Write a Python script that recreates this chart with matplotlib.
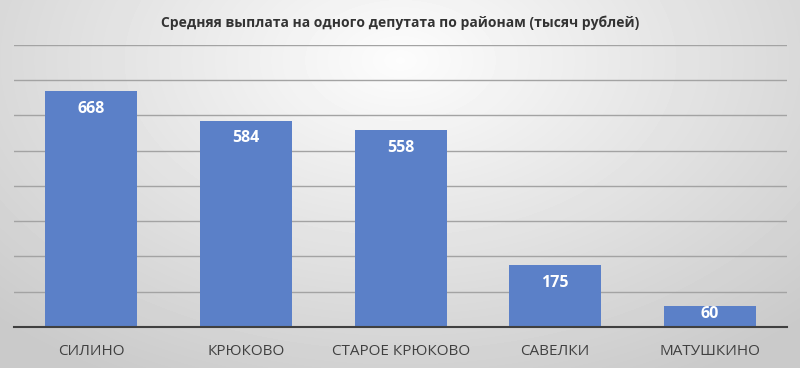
import matplotlib
matplotlib.use("Agg")
import matplotlib.pyplot as plt
import numpy as np

districts = ["СИЛИНО", "КРЮКОВО", "СТАРОЕ КРЮКОВО", "САВЕЛКИ", "МАТУШКИНО"]
payouts = [668, 584, 558, 175, 60]
title = "Средняя выплата на одного депутата по районам (тысяч рублей)"

plt.rcParams["font.family"] = ["Open Sans", "DejaVu Sans"]

fig = plt.figure(figsize=(8, 3.68), dpi=100)

# radial grey background
bg = fig.add_axes([0, 0, 1, 1], zorder=-10)
yy, xx = np.mgrid[0:368, 0:800]
r = np.sqrt(((xx - 400) / 520.0) ** 2 + ((yy - 60) / 330.0) ** 2)
shade = np.clip(0.99 - 0.18 * r, 0.79, 0.99)
bg.imshow(shade, cmap="gray", vmin=0, vmax=1, aspect="auto", extent=[0, 1, 0, 1])
bg.set_axis_off()

ax = fig.add_axes([0.0175, 0.1114, 0.9665, 0.7666])
ax.patch.set_alpha(0)
x = np.arange(len(districts))
bars = ax.bar(x, payouts, width=0.595, color="#5b80c8", zorder=3)

ax.set_ylim(0, 800)
ax.set_xlim(-0.5, len(districts) - 0.5)
ax.set_yticks(np.arange(100, 801, 100))
ax.yaxis.grid(True, color="#a3a3a3", linewidth=1, zorder=0)
ax.tick_params(axis="y", left=False, labelleft=False)
ax.tick_params(axis="x", length=0, pad=12)
ax.set_xticks(x)
ax.set_xticklabels(districts, fontsize=11, color="#404040")
for side in ["left", "right", "top"]:
    ax.spines[side].set_visible(False)
ax.spines["bottom"].set_color("#404040")
ax.spines["bottom"].set_linewidth(1.5)
ax.spines["bottom"].set_zorder(4)

for b, v in zip(bars, payouts):
    cx = b.get_x() + b.get_width() / 2
    if v > 100:
        ax.annotate(str(v), (cx, v), xytext=(0, -12.5), textcoords="offset points",
                    ha="center", va="center", fontsize=11.5,
                    fontweight="bold", color="white", zorder=5)
    else:
        # short bar: label sits roughly in the middle, a bit high
        ax.annotate(str(v), (cx, v / 2), xytext=(0, 2), textcoords="offset points",
                    ha="center", va="center", fontsize=11.5,
                    fontweight="bold", color="white", zorder=5)

fig.text(0.5, 0.938, title, ha="center", va="center", fontsize=10,
         fontweight="bold", color="#333333")

fig.savefig("out.png", dpi=100)
